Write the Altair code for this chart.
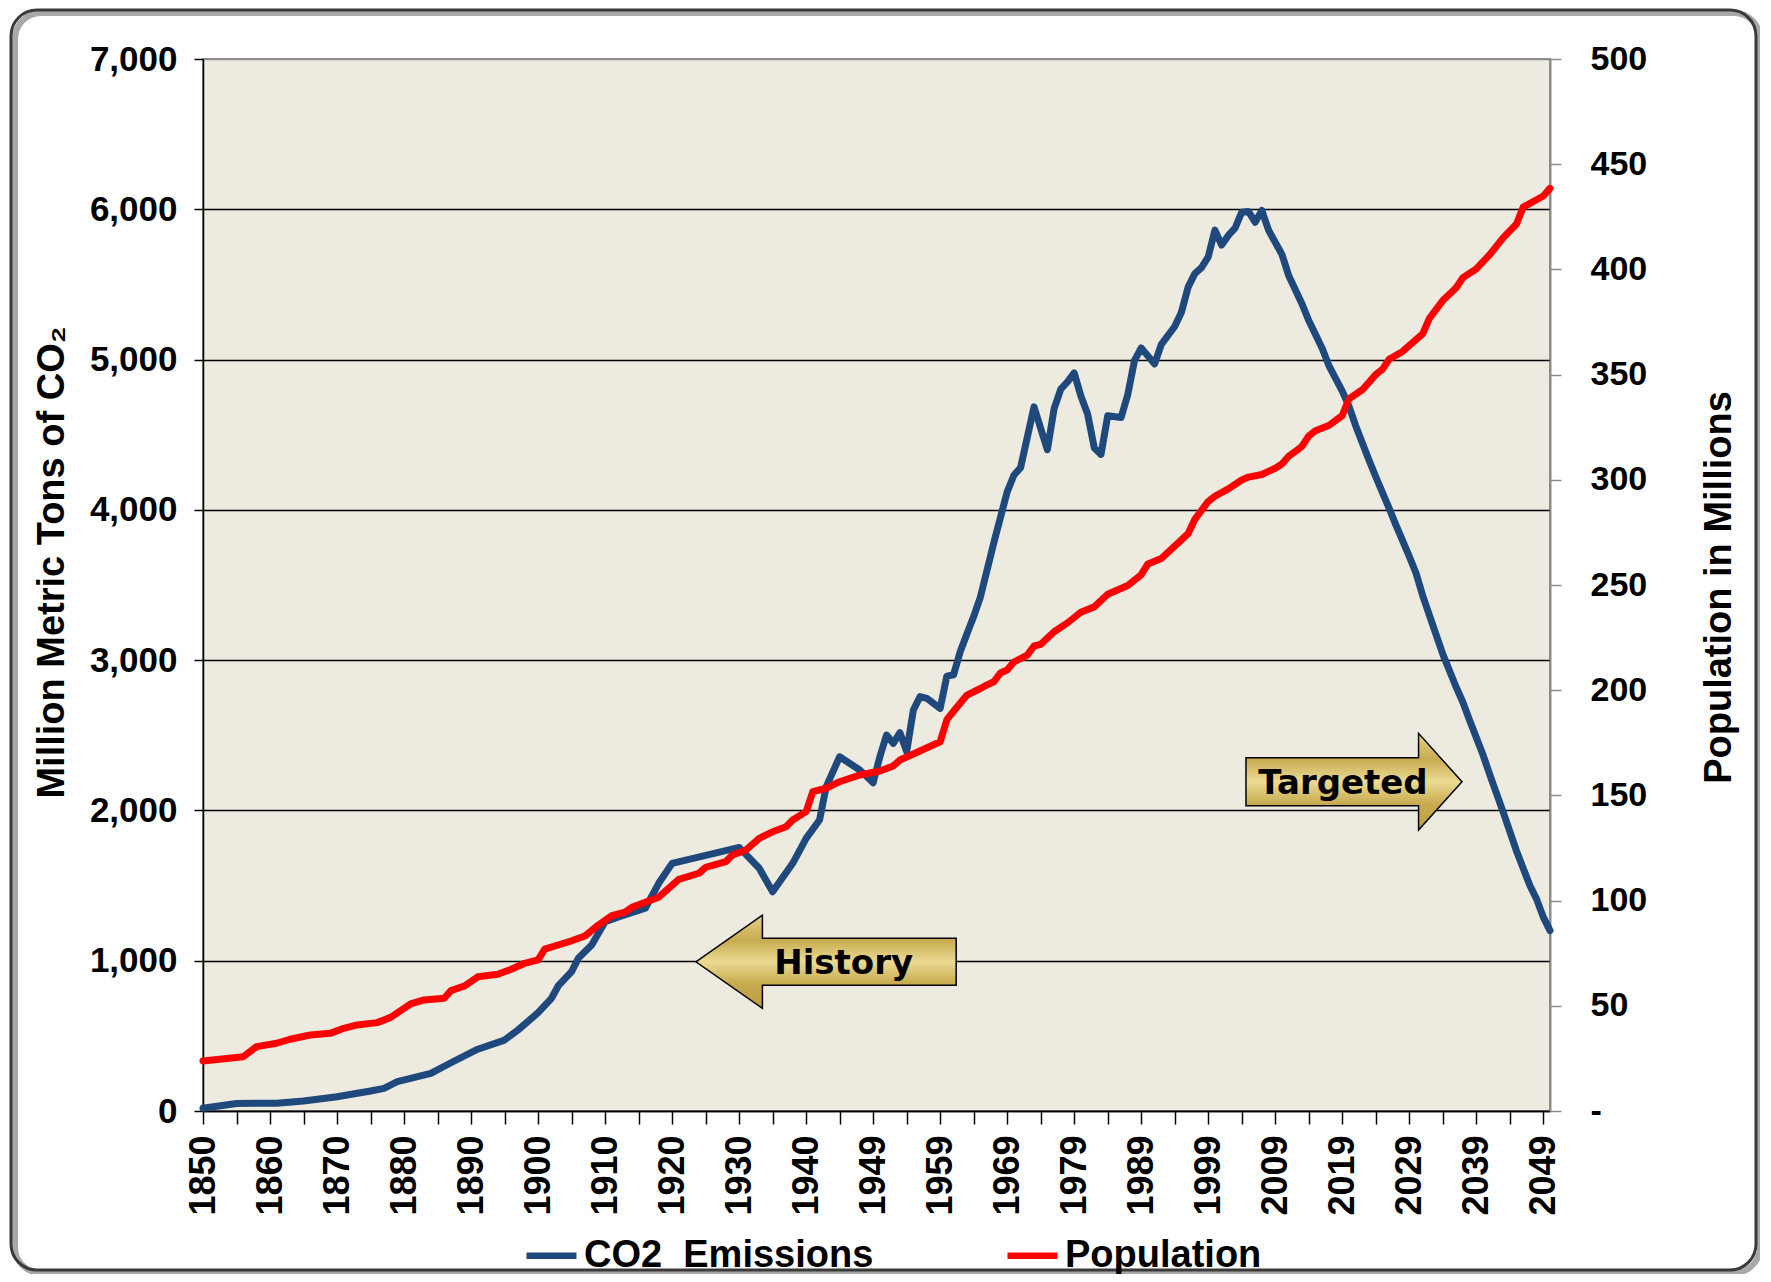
import json
import altair as alt
import pandas as pd

FONT = "Liberation Sans"

# ---------------- data ----------------
x_tick_labels = ["1850", "1860", "1870", "1880", "1890", "1900", "1910", "1920", "1930", "1940",
                 "1949", "1959", "1969", "1979", "1989", "1999", "2009", "2019", "2029", "2039", "2049"]

co2_idx = [0, 5, 11, 15, 20, 25, 27, 29, 34, 37, 41, 45, 47, 50, 52, 53, 55, 56, 58, 60, 62, 66, 68, 70,
           78, 80, 83, 85, 88, 90, 92, 93, 95, 98, 100, 101, 102, 103, 104, 105, 106, 107, 108, 110,
           111, 112, 113, 114, 115, 116, 117, 118, 119, 120, 121, 122, 124, 126, 127, 128, 129, 130,
           131, 132, 133, 134, 135, 137, 138, 139, 140, 142, 143, 145, 146, 147, 148, 149, 150, 151,
           152, 153, 154, 155, 156, 157, 158, 159, 161, 162, 164, 165, 167, 168, 170, 171, 172, 174,
           175, 177, 178, 180, 181, 182, 184, 185, 187, 188, 189, 191, 192, 194, 195, 196, 198, 199,
           200, 201]
co2_val = [18, 50, 52, 67, 95, 133, 151, 195, 251, 321, 411, 472, 539, 654, 750, 832, 927, 1016, 1104,
           1260, 1291, 1349, 1515, 1648, 1732, 1754, 1615, 1459, 1648, 1814, 1936, 2158, 2357, 2269,
           2184, 2357, 2502, 2446, 2517, 2391, 2668, 2757, 2746, 2679, 2894, 2903, 3058, 3176, 3290,
           3420, 3600, 3780, 3950, 4120, 4230, 4281, 4685, 4400, 4673, 4804, 4852, 4911, 4757, 4638,
           4412, 4369, 4626, 4614, 4768, 4994, 5077, 4971, 5101, 5220, 5315, 5482, 5572, 5612, 5683,
           5861, 5762, 5826, 5874, 5981, 5986, 5914, 5992, 5861, 5700, 5560, 5370, 5260, 5075, 4960,
           4790, 4690, 4560, 4330, 4220, 4010, 3900, 3690, 3580, 3430, 3170, 3040, 2820, 2720, 2600,
           2370, 2240, 1990, 1860, 1730, 1500, 1410, 1290, 1200]

pop_idx = [0, 6, 8, 11, 13, 16, 19, 21, 23, 26, 28, 31, 33, 36, 37, 39, 41, 44, 46, 48, 50, 51, 53, 55,
           57, 59, 61, 63, 64, 68, 71, 74, 75, 78, 79, 81, 83, 85, 87, 88, 90, 91, 93, 95, 98, 101,
           103, 104, 106, 110, 111, 112, 114, 116, 117, 118, 119, 120, 121, 123, 124, 125, 127, 129,
           131, 133, 135, 138, 140, 141, 143, 145, 147, 148, 150, 151, 153, 155, 156, 158, 160, 161,
           162, 163, 164, 165, 166, 168, 170, 171, 173, 175, 176, 177, 179, 182, 183, 185, 187, 188,
           190, 192, 194, 196, 197, 200, 201]
pop_val = [23.8, 25.8, 30.6, 32.2, 34.1, 36.1, 36.9, 39.3, 40.9, 42.0, 44.5, 50.9, 52.8, 53.6, 57.2,
           59.4, 63.8, 65.0, 67.4, 70.2, 71.8, 76.9, 78.9, 80.9, 83.2, 88.4, 92.8, 94.5, 96.8, 101.6,
           110.1, 113.0, 115.8, 118.5, 121.7, 124.0, 129.6, 132.7, 135.1, 138.3, 142.3, 151.8, 153.4,
           156.5, 159.7, 161.6, 164.0, 166.8, 169.7, 175.5, 186.0, 190.0, 197.7, 200.8, 202.5, 204.0,
           208.2, 209.6, 213.4, 216.7, 221.0, 221.8, 227.8, 232.0, 237.1, 239.6, 245.6, 249.8, 254.9,
           260.0, 262.6, 268.5, 274.4, 281.2, 289.7, 292.2, 295.7, 299.9, 301.3, 302.5, 305.5, 307.5,
           311.2, 313.5, 316.0, 320.8, 323.3, 325.8, 330.5, 338.5, 342.8, 350.0, 352.5, 357.3, 361.0,
           369.4, 376.7, 385.2, 391.3, 396.1, 400.2, 407.0, 415.0, 421.6, 429.6, 434.9, 438.5]

series_names = ["CO2\u00a0 Emissions", "Population"]
series_colors = ["#1F497D", "#FF0000"]

arrow_texts = ["History", "Targeted"]
arrow_idx = [92.97, 171.75]
arrow_val = [993, 2191]
text_idx = [95.6, 170.1]
text_val = [980, 2178]

# ---------------- frames ----------------
co2_df = pd.DataFrame({"idx": co2_idx, "v": co2_val, "series": series_names[0]})
pop_df = pd.DataFrame({"idx": pop_idx, "p": pop_val, "series": series_names[1]})
hist_df = pd.DataFrame({"idx": [arrow_idx[0]], "v": [arrow_val[0]]})
targ_df = pd.DataFrame({"idx": [arrow_idx[1]], "v": [arrow_val[1]]})
txt_df = pd.DataFrame({"idx": text_idx, "v": text_val, "t": arrow_texts})
one_df = pd.DataFrame({"k": [0]})

label_expr = ("datum.value % 10 === 0 ? " + json.dumps(x_tick_labels)
              + "[round(datum.value / 10)] : ''")

x_scale = alt.Scale(domain=[0, 201], nice=False, zero=False)
x_axis = alt.Axis(values=list(range(0, 201, 5)), labelExpr=label_expr, labelAngle=270,
                  labelFont=FONT, labelFontSize=36, labelFontWeight="bold", labelColor="black",
                  labelPadding=11, tickSize=13, tickColor="black", tickWidth=1.5,
                  domainColor="black", domainWidth=1.5, grid=False, title=None,
                  labelOverlap=False, labelFlush=False)

y_scale = alt.Scale(domain=[0, 7000], nice=False, zero=True)
y_axis = alt.Axis(values=list(range(0, 7001, 1000)), format=",.0f", labelFont=FONT, labelFontSize=35,
                  labelFontWeight="bold", labelColor="black", labelPadding=17, tickSize=9,
                  tickColor="black", tickWidth=1.5, domainColor="black", domainWidth=1.5,
                  grid=True,
                  gridColor={"condition": {"test": "datum.value === 7000", "value": "#8C8C8C"},
                             "value": "black"},
                  gridWidth=1.5,
                  title="Million Metric Tons of CO\u2082", titleFont=FONT, titleFontSize=38,
                  titleFontWeight="bold", titleColor="black", titleAngle=270, titleX=-151,
                  titleY=503, titleAlign="center", titleBaseline="middle")

p_scale = alt.Scale(domain=[0, 500], nice=False, zero=True)
p_axis = alt.Axis(orient="right", values=list(range(0, 501, 50)),
                  labelExpr="datum.value == 0 ? '-' : datum.label",
                  labelFont=FONT, labelFontSize=34, labelFontWeight="bold", labelColor="black",
                  labelPadding=29, tickSize=11, tickColor="#8C8C8C", tickWidth=1.5,
                  domainColor="#8C8C8C", domainWidth=2, grid=False,
                  title="Population in Millions", titleFont=FONT, titleFontSize=38,
                  titleFontWeight="bold", titleColor="black", titleAngle=270, titleX=169.5,
                  titleY=528, titleAlign="center", titleBaseline="middle")

color_scale = alt.Scale(domain=series_names, range=series_colors)
legend = alt.Legend(orient="none", legendX=320, legendY=1168, direction="horizontal",
                    symbolType="stroke", symbolSize=2500, symbolStrokeWidth=6.5,
                    labelFont=FONT, labelFontSize=38, labelFontWeight="bold", labelColor="black",
                    labelOffset=4, columnPadding=120, padding=0, title=None, labelLimit=600)

X = alt.X("idx:Q", scale=x_scale, axis=x_axis)

co2_line = alt.Chart(co2_df).mark_line(strokeWidth=7, strokeJoin="round", strokeCap="round").encode(
    x=X,
    y=alt.Y("v:Q", scale=y_scale, axis=y_axis),
    color=alt.Color("series:N", scale=color_scale, legend=legend),
)

pop_line = alt.Chart(pop_df).mark_line(strokeWidth=7, strokeJoin="round", strokeCap="round").encode(
    x=X,
    y=alt.Y("p:Q", scale=p_scale, axis=p_axis),
    color=alt.Color("series:N", scale=color_scale, legend=legend),
)

gold = {"gradient": "linear", "x1": 0, "y1": 0, "x2": 0, "y2": 1,
        "stops": [{"offset": 0, "color": "#E4D188"}, {"offset": 0.27, "color": "#C8AB50"},
                  {"offset": 0.5, "color": "#EBDB93"}, {"offset": 0.73, "color": "#C8AB50"},
                  {"offset": 1, "color": "#BE9F42"}]}

HIST_PATH = "M -1 0 L -0.489 -0.358 L -0.489 -0.18 L 1 -0.18 L 1 0.18 L -0.489 0.18 L -0.489 0.358 Z"
TARG_PATH = "M 1 0 L 0.598 -0.448 L 0.598 -0.222 L -1 -0.222 L -1 0.222 L 0.598 0.222 L 0.598 0.448 Z"

hist_arrow = alt.Chart(hist_df).mark_point(shape=HIST_PATH, size=67756, filled=True, fill=gold,
                                           stroke="black", strokeWidth=1.5, opacity=1).encode(
    x=X, y=alt.Y("v:Q", scale=y_scale, axis=y_axis))
targ_arrow = alt.Chart(targ_df).mark_point(shape=TARG_PATH, size=46656, filled=True, fill=gold,
                                           stroke="black", strokeWidth=1.5, opacity=1).encode(
    x=X, y=alt.Y("v:Q", scale=y_scale, axis=y_axis))
arrow_text = alt.Chart(txt_df).mark_text(font="DejaVu Sans", fontWeight="bold", fontSize=34,
                                          color="black", align="center", baseline="middle").encode(
    x=X, y=alt.Y("v:Q", scale=y_scale, axis=y_axis), text="t:N")

frame_shadow = alt.Chart(one_df).mark_rect(fillOpacity=0, stroke="#A8A8A8", strokeWidth=6,
                                           cornerRadius=26).encode(
    x=alt.value(-188), x2=alt.value(1557), y=alt.value(-46), y2=alt.value(1214))
frame = alt.Chart(one_df).mark_rect(fillOpacity=0, stroke="#3A3A3A", strokeWidth=3,
                                    cornerRadius=26).encode(
    x=alt.value(-192), x2=alt.value(1553), y=alt.value(-49), y2=alt.value(1211))

inner = alt.layer(co2_line, hist_arrow, targ_arrow, arrow_text)

chart = alt.layer(frame_shadow, frame, inner, pop_line).resolve_scale(
    y="independent"
).properties(
    width=1347, height=1052,
    padding={"left": 195, "top": 51, "right": 210, "bottom": 163},
    autosize=alt.AutoSizeParams(type="none"),
    background="white",
).configure_view(
    fill="#EDEAE0", stroke="#8C8C8C", strokeWidth=2
)

chart.save("out.html", embed_options={"renderer": "svg", "actions": False})
